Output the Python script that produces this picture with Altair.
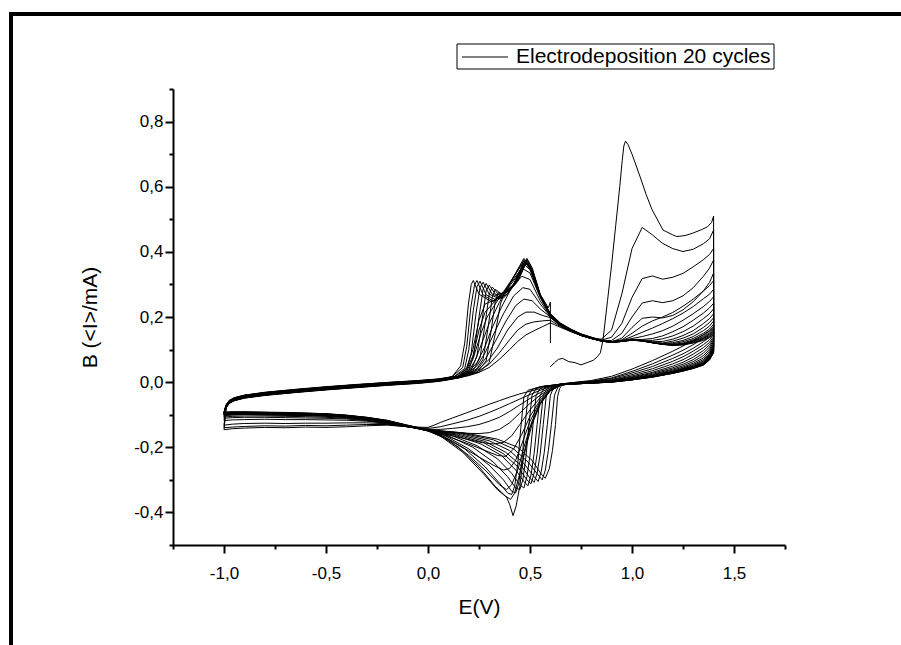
import altair as alt
import pandas as pd

# ---------------- data ----------------
# cycle 1 starts at 0.6 V (anodic sweep, nucleation peak)
C1_E = [0.6, 0.62, 0.64, 0.66, 0.69, 0.72, 0.75, 0.78, 0.81, 0.83, 0.845, 0.858, 0.88, 0.9, 0.92, 0.94,
        0.952, 0.96, 0.968, 0.98, 1.0, 1.04, 1.07, 1.098, 1.152, 1.2, 1.22, 1.26, 1.3, 1.34, 1.37, 1.39, 1.4]
C1_I = [0.047, 0.06, 0.07, 0.073, 0.063, 0.06, 0.053, 0.06, 0.067, 0.078, 0.09, 0.13, 0.25, 0.36, 0.48, 0.6,
        0.68, 0.725, 0.74, 0.73, 0.7, 0.63, 0.575, 0.53, 0.467, 0.452, 0.447, 0.45, 0.458, 0.468, 0.477, 0.49, 0.51]

# anodic sweep, low potentials (cycles 2..21)
EA_LOW = [-0.99, -0.975, -0.95, -0.9, -0.8, -0.65, -0.5, -0.35, -0.2, -0.05, 0.05, 0.1]
IA_LOW = [
    [-0.080, -0.066, -0.057, -0.049, -0.041, -0.032, -0.024, -0.017, -0.010, -0.004, 0.002, 0.007],
    [-0.079, -0.065, -0.057, -0.049, -0.040, -0.031, -0.023, -0.016, -0.009, -0.003, 0.003, 0.008],
    [-0.079, -0.065, -0.056, -0.048, -0.040, -0.031, -0.023, -0.016, -0.009, -0.003, 0.003, 0.008],
    [-0.078, -0.064, -0.056, -0.048, -0.039, -0.030, -0.022, -0.015, -0.008, -0.002, 0.004, 0.009],
    [-0.077, -0.064, -0.055, -0.047, -0.039, -0.030, -0.022, -0.015, -0.008, -0.002, 0.004, 0.009],
    [-0.077, -0.063, -0.055, -0.047, -0.038, -0.029, -0.021, -0.014, -0.007, -0.001, 0.004, 0.009],
    [-0.076, -0.063, -0.054, -0.046, -0.038, -0.029, -0.021, -0.014, -0.007, -0.001, 0.005, 0.010],
    [-0.076, -0.062, -0.054, -0.046, -0.037, -0.028, -0.020, -0.013, -0.006, 0.000, 0.005, 0.010],
    [-0.075, -0.062, -0.053, -0.045, -0.037, -0.028, -0.020, -0.013, -0.006, 0.000, 0.005, 0.010],
    [-0.075, -0.061, -0.053, -0.045, -0.036, -0.027, -0.019, -0.012, -0.005, 0.001, 0.006, 0.011],
    [-0.074, -0.061, -0.052, -0.044, -0.036, -0.027, -0.019, -0.012, -0.005, 0.001, 0.006, 0.011],
    [-0.074, -0.060, -0.052, -0.044, -0.035, -0.026, -0.018, -0.011, -0.004, 0.002, 0.007, 0.012],
    [-0.073, -0.060, -0.051, -0.043, -0.035, -0.026, -0.018, -0.011, -0.004, 0.002, 0.007, 0.012],
    [-0.073, -0.059, -0.051, -0.043, -0.034, -0.025, -0.017, -0.010, -0.004, 0.002, 0.007, 0.012],
    [-0.072, -0.059, -0.050, -0.042, -0.034, -0.025, -0.017, -0.010, -0.003, 0.003, 0.008, 0.013],
    [-0.072, -0.058, -0.050, -0.042, -0.033, -0.024, -0.016, -0.009, -0.003, 0.003, 0.008, 0.013],
    [-0.071, -0.058, -0.049, -0.041, -0.033, -0.024, -0.016, -0.009, -0.002, 0.003, 0.008, 0.013],
    [-0.071, -0.057, -0.049, -0.041, -0.032, -0.023, -0.015, -0.008, -0.002, 0.004, 0.009, 0.014],
    [-0.070, -0.057, -0.048, -0.040, -0.032, -0.023, -0.015, -0.008, -0.001, 0.004, 0.009, 0.014],
    [-0.070, -0.056, -0.048, -0.040, -0.031, -0.022, -0.014, -0.007, -0.001, 0.005, 0.010, 0.015],
]

# anodic redox waves (E, I) for cycles 2..21 (last one ends the record at 0.6 V)
AN_WAVE = [
    [(0.15, 0.013), (0.2, 0.02), (0.25, 0.03), (0.3, 0.045), (0.35, 0.07), (0.4, 0.1), (0.44, 0.125), (0.48, 0.145), (0.52, 0.158), (0.56, 0.17)],
    [(0.15, 0.013), (0.2, 0.022), (0.25, 0.035), (0.3, 0.055), (0.35, 0.09), (0.4, 0.13), (0.44, 0.16), (0.48, 0.178), (0.52, 0.185), (0.56, 0.188)],
    [(0.15, 0.014), (0.2, 0.025), (0.25, 0.04), (0.3, 0.07), (0.34, 0.105), (0.39, 0.16), (0.44, 0.2), (0.48, 0.215), (0.52, 0.215), (0.56, 0.205)],
    [(0.15, 0.014), (0.2, 0.027), (0.25, 0.045), (0.29, 0.08), (0.33, 0.125), (0.38, 0.185), (0.43, 0.235), (0.47, 0.255), (0.51, 0.25), (0.55, 0.225)],
    [(0.15, 0.015), (0.2, 0.03), (0.24, 0.05), (0.28, 0.09), (0.32, 0.145), (0.37, 0.21), (0.42, 0.265), (0.465, 0.29), (0.5, 0.285), (0.55, 0.24)],
    [(0.15, 0.015), (0.2, 0.032), (0.24, 0.06), (0.28, 0.11), (0.31, 0.16), (0.36, 0.23), (0.41, 0.29), (0.46, 0.325), (0.5, 0.315), (0.55, 0.25)],
    [(0.15, 0.016), (0.2, 0.035), (0.23, 0.065), (0.27, 0.13), (0.3, 0.18), (0.35, 0.245), (0.4, 0.3), (0.46, 0.35), (0.5, 0.335), (0.55, 0.26)],
    [(0.15, 0.017), (0.19, 0.035), (0.22, 0.07), (0.26, 0.15), (0.29, 0.2), (0.34, 0.25), (0.4, 0.305), (0.465, 0.365), (0.5, 0.345), (0.55, 0.262)],
    [(0.15, 0.018), (0.19, 0.04), (0.22, 0.08), (0.25, 0.16), (0.28, 0.215), (0.33, 0.25), (0.39, 0.29), (0.47, 0.375), (0.5, 0.35), (0.55, 0.265)],
    [(0.15, 0.018), (0.19, 0.045), (0.22, 0.1), (0.25, 0.19), (0.28, 0.24), (0.32, 0.25), (0.38, 0.28), (0.47, 0.38), (0.5, 0.352), (0.55, 0.265)],
    [(0.15, 0.015), (0.25, 0.03), (0.3, 0.06), (0.33, 0.15), (0.355, 0.24), (0.37, 0.265), (0.39, 0.27), (0.43, 0.31), (0.47, 0.372), (0.5, 0.35), (0.55, 0.265)],
    [(0.15, 0.015), (0.24, 0.03), (0.285, 0.065), (0.31, 0.16), (0.33, 0.25), (0.345, 0.275), (0.37, 0.27), (0.42, 0.3), (0.475, 0.37), (0.5, 0.352), (0.55, 0.265)],
    [(0.15, 0.016), (0.23, 0.032), (0.27, 0.07), (0.295, 0.17), (0.315, 0.26), (0.33, 0.285), (0.36, 0.27), (0.41, 0.29), (0.475, 0.368), (0.51, 0.34), (0.55, 0.265)],
    [(0.15, 0.016), (0.22, 0.034), (0.255, 0.075), (0.28, 0.18), (0.3, 0.27), (0.315, 0.292), (0.345, 0.27), (0.4, 0.28), (0.478, 0.366), (0.51, 0.34), (0.55, 0.266)],
    [(0.14, 0.016), (0.21, 0.035), (0.24, 0.08), (0.265, 0.19), (0.285, 0.28), (0.3, 0.298), (0.33, 0.27), (0.38, 0.265), (0.44, 0.31), (0.48, 0.365), (0.51, 0.34), (0.55, 0.266)],
    [(0.14, 0.017), (0.2, 0.037), (0.225, 0.085), (0.25, 0.2), (0.27, 0.285), (0.285, 0.303), (0.315, 0.27), (0.37, 0.258), (0.44, 0.31), (0.482, 0.368), (0.51, 0.342), (0.55, 0.267)],
    [(0.13, 0.017), (0.19, 0.04), (0.212, 0.09), (0.235, 0.21), (0.255, 0.29), (0.27, 0.307), (0.3, 0.27), (0.355, 0.255), (0.43, 0.305), (0.483, 0.37), (0.51, 0.345), (0.55, 0.267)],
    [(0.13, 0.018), (0.18, 0.042), (0.2, 0.1), (0.222, 0.22), (0.24, 0.293), (0.255, 0.31), (0.285, 0.268), (0.34, 0.25), (0.43, 0.305), (0.484, 0.373), (0.51, 0.347), (0.55, 0.268)],
    [(0.12, 0.018), (0.17, 0.045), (0.19, 0.11), (0.21, 0.23), (0.228, 0.298), (0.24, 0.312), (0.27, 0.268), (0.32, 0.248), (0.42, 0.3), (0.485, 0.377), (0.51, 0.35), (0.55, 0.268)],
    [(0.12, 0.018), (0.16, 0.05), (0.18, 0.12), (0.198, 0.24), (0.212, 0.3), (0.222, 0.312), (0.25, 0.27), (0.31, 0.247), (0.36, 0.262), (0.43, 0.32), (0.485, 0.38), (0.51, 0.352), (0.55, 0.27), (0.59, 0.228), (0.6, 0.246), (0.6, 0.12)],
]

# anodic sweep, high potentials (cycles 2..20)
EA_HIGH = [0.6, 0.65, 0.7, 0.75, 0.8, 0.85, 0.9, 0.95, 1.0, 1.05, 1.1, 1.15, 1.2, 1.25, 1.3, 1.35, 1.38, 1.4]
IA_HIGH = [
    [0.182, 0.168, 0.155, 0.143, 0.135, 0.132, 0.16, 0.27, 0.41, 0.475, 0.452, 0.426, 0.41, 0.401, 0.408, 0.425, 0.44, 0.467],
    [0.19, 0.17, 0.156, 0.144, 0.135, 0.129, 0.138, 0.18, 0.26, 0.318, 0.326, 0.316, 0.322, 0.334, 0.354, 0.376, 0.392, 0.41],
    [0.198, 0.172, 0.157, 0.144, 0.135, 0.128, 0.128, 0.15, 0.2, 0.243, 0.25, 0.244, 0.25, 0.265, 0.29, 0.325, 0.35, 0.375],
    [0.2, 0.173, 0.157, 0.144, 0.134, 0.127, 0.124, 0.135, 0.168, 0.196, 0.2, 0.197, 0.205, 0.222, 0.247, 0.28, 0.306, 0.335],
    [0.201, 0.174, 0.157, 0.143, 0.134, 0.127, 0.124, 0.13, 0.15, 0.172, 0.188, 0.2, 0.214, 0.233, 0.255, 0.28, 0.296, 0.312],
    [0.202, 0.174, 0.157, 0.143, 0.134, 0.126, 0.123, 0.128, 0.14, 0.153, 0.166, 0.18, 0.195, 0.212, 0.232, 0.256, 0.27, 0.285],
    [0.203, 0.175, 0.158, 0.144, 0.134, 0.126, 0.123, 0.127, 0.134, 0.14, 0.148, 0.158, 0.172, 0.19, 0.21, 0.232, 0.248, 0.262],
    [0.204, 0.175, 0.158, 0.144, 0.134, 0.126, 0.122, 0.126, 0.131, 0.131, 0.134, 0.142, 0.155, 0.17, 0.19, 0.212, 0.228, 0.242],
    [0.204, 0.176, 0.158, 0.144, 0.134, 0.126, 0.122, 0.126, 0.13, 0.129, 0.128, 0.133, 0.142, 0.155, 0.172, 0.195, 0.21, 0.225],
    [0.205, 0.176, 0.159, 0.145, 0.135, 0.126, 0.122, 0.125, 0.13, 0.128, 0.124, 0.125, 0.132, 0.143, 0.158, 0.18, 0.195, 0.21],
    [0.205, 0.177, 0.159, 0.145, 0.135, 0.126, 0.122, 0.125, 0.129, 0.127, 0.122, 0.12, 0.126, 0.135, 0.148, 0.168, 0.183, 0.198],
    [0.206, 0.177, 0.16, 0.145, 0.135, 0.127, 0.122, 0.125, 0.129, 0.127, 0.122, 0.119, 0.121, 0.128, 0.14, 0.158, 0.172, 0.188],
    [0.206, 0.178, 0.16, 0.146, 0.136, 0.127, 0.123, 0.125, 0.129, 0.127, 0.121, 0.118, 0.118, 0.124, 0.134, 0.15, 0.163, 0.178],
    [0.207, 0.178, 0.16, 0.146, 0.136, 0.127, 0.123, 0.125, 0.129, 0.126, 0.121, 0.117, 0.116, 0.12, 0.13, 0.144, 0.156, 0.17],
    [0.207, 0.179, 0.161, 0.146, 0.136, 0.128, 0.123, 0.125, 0.129, 0.126, 0.121, 0.117, 0.115, 0.118, 0.127, 0.14, 0.151, 0.165],
    [0.208, 0.179, 0.161, 0.147, 0.137, 0.128, 0.123, 0.126, 0.13, 0.127, 0.121, 0.116, 0.114, 0.117, 0.125, 0.137, 0.147, 0.16],
    [0.208, 0.18, 0.162, 0.147, 0.137, 0.128, 0.124, 0.126, 0.13, 0.127, 0.121, 0.116, 0.114, 0.116, 0.123, 0.134, 0.143, 0.155],
    [0.209, 0.18, 0.162, 0.148, 0.138, 0.129, 0.124, 0.126, 0.13, 0.127, 0.121, 0.116, 0.113, 0.115, 0.121, 0.131, 0.14, 0.15],
    [0.21, 0.181, 0.163, 0.148, 0.138, 0.129, 0.125, 0.127, 0.131, 0.128, 0.122, 0.116, 0.113, 0.114, 0.12, 0.128, 0.137, 0.145],
]

# cathodic sweep, high potentials (cycles 1..20)
EC_HIGH = [1.4, 1.38, 1.35, 1.3, 1.25, 1.2, 1.1, 1.0, 0.9, 0.8, 0.7]
IC_HIGH = [
    [0.17, 0.158, 0.146, 0.128, 0.111, 0.095, 0.066, 0.04, 0.018, 0.005, -0.002],
    [0.16, 0.147, 0.134, 0.115, 0.098, 0.083, 0.056, 0.033, 0.013, 0.003, -0.002],
    [0.152, 0.138, 0.124, 0.104, 0.087, 0.073, 0.048, 0.028, 0.011, 0.002, -0.003],
    [0.146, 0.13, 0.115, 0.095, 0.078, 0.064, 0.041, 0.023, 0.008, 0.001, -0.003],
    [0.14, 0.122, 0.106, 0.086, 0.069, 0.056, 0.035, 0.019, 0.006, 0.0, -0.003],
    [0.135, 0.115, 0.097, 0.077, 0.061, 0.049, 0.03, 0.016, 0.005, 0.0, -0.004],
    [0.13, 0.108, 0.089, 0.069, 0.055, 0.044, 0.027, 0.014, 0.004, -0.001, -0.004],
    [0.125, 0.101, 0.081, 0.063, 0.05, 0.04, 0.024, 0.012, 0.003, -0.001, -0.004],
    [0.12, 0.095, 0.074, 0.058, 0.046, 0.037, 0.022, 0.011, 0.003, -0.001, -0.004],
    [0.116, 0.089, 0.069, 0.054, 0.043, 0.034, 0.02, 0.01, 0.002, -0.002, -0.005],
    [0.112, 0.085, 0.065, 0.051, 0.041, 0.033, 0.019, 0.01, 0.002, -0.002, -0.005],
    [0.109, 0.082, 0.062, 0.049, 0.04, 0.032, 0.019, 0.009, 0.002, -0.002, -0.005],
    [0.106, 0.079, 0.06, 0.047, 0.039, 0.031, 0.018, 0.009, 0.002, -0.002, -0.005],
    [0.103, 0.077, 0.058, 0.046, 0.038, 0.03, 0.018, 0.009, 0.001, -0.002, -0.005],
    [0.1, 0.075, 0.057, 0.045, 0.037, 0.03, 0.017, 0.008, 0.001, -0.003, -0.006],
    [0.098, 0.073, 0.056, 0.044, 0.036, 0.029, 0.017, 0.008, 0.001, -0.003, -0.006],
    [0.096, 0.071, 0.055, 0.043, 0.035, 0.028, 0.016, 0.008, 0.001, -0.003, -0.006],
    [0.094, 0.07, 0.054, 0.043, 0.035, 0.028, 0.016, 0.007, 0.0, -0.003, -0.006],
    [0.092, 0.069, 0.053, 0.042, 0.034, 0.027, 0.016, 0.007, 0.0, -0.003, -0.006],
    [0.09, 0.068, 0.052, 0.042, 0.034, 0.027, 0.015, 0.007, 0.0, -0.003, -0.006],
]

# cathodic redox waves (E, I), cycles 1..20
CAT_WAVE = [
    [(0.65, -0.006), (0.6, -0.012), (0.55, -0.02), (0.5, -0.028), (0.45, -0.036), (0.4, -0.046), (0.35, -0.057), (0.3, -0.068), (0.25, -0.08), (0.19, -0.094), (0.12, -0.11), (0.06, -0.124), (0.03, -0.132), (0.0, -0.139)],
    [(0.65, -0.006), (0.6, -0.014), (0.55, -0.025), (0.5, -0.038), (0.45, -0.052), (0.4, -0.066), (0.35, -0.08), (0.3, -0.093), (0.25, -0.105), (0.19, -0.117), (0.12, -0.128), (0.06, -0.137), (0.0, -0.142)],
    [(0.65, -0.007), (0.6, -0.017), (0.55, -0.032), (0.5, -0.05), (0.45, -0.07), (0.4, -0.09), (0.35, -0.108), (0.3, -0.12), (0.25, -0.13), (0.19, -0.137), (0.12, -0.142), (0.06, -0.145), (0.0, -0.145)],
    [(0.65, -0.008), (0.6, -0.02), (0.55, -0.04), (0.5, -0.065), (0.45, -0.095), (0.4, -0.125), (0.35, -0.145), (0.3, -0.155), (0.25, -0.158), (0.19, -0.157), (0.12, -0.153), (0.06, -0.15), (0.0, -0.146)],
    [(0.65, -0.008), (0.6, -0.022), (0.55, -0.048), (0.5, -0.085), (0.45, -0.13), (0.41, -0.165), (0.37, -0.185), (0.32, -0.19), (0.26, -0.185), (0.19, -0.175), (0.12, -0.165), (0.06, -0.155), (0.0, -0.147)],
    [(0.65, -0.009), (0.6, -0.024), (0.55, -0.055), (0.5, -0.105), (0.46, -0.16), (0.42, -0.205), (0.38, -0.228), (0.34, -0.225), (0.28, -0.21), (0.2, -0.19), (0.12, -0.172), (0.06, -0.158), (0.0, -0.148)],
    [(0.65, -0.009), (0.6, -0.025), (0.55, -0.06), (0.5, -0.12), (0.46, -0.19), (0.43, -0.24), (0.4, -0.265), (0.37, -0.27), (0.32, -0.255), (0.25, -0.23), (0.17, -0.2), (0.08, -0.167), (0.0, -0.148)],
    [(0.65, -0.01), (0.6, -0.026), (0.55, -0.065), (0.51, -0.12), (0.47, -0.2), (0.44, -0.27), (0.41, -0.315), (0.385, -0.33), (0.35, -0.315), (0.28, -0.27), (0.2, -0.225), (0.1, -0.178), (0.0, -0.149)],
    [(0.65, -0.01), (0.6, -0.026), (0.55, -0.068), (0.51, -0.13), (0.48, -0.2), (0.45, -0.28), (0.425, -0.34), (0.405, -0.36), (0.38, -0.35), (0.33, -0.32), (0.25, -0.26), (0.15, -0.2), (0.05, -0.16), (0.0, -0.149)],
    [(0.65, -0.01), (0.6, -0.025), (0.55, -0.065), (0.5, -0.14), (0.47, -0.22), (0.45, -0.32), (0.432, -0.38), (0.417, -0.41), (0.4, -0.375), (0.385, -0.353), (0.34, -0.33), (0.27, -0.28), (0.17, -0.215), (0.06, -0.165), (0.0, -0.15)],
    [(0.65, -0.008), (0.55, -0.015), (0.49, -0.025), (0.47, -0.045), (0.455, -0.14), (0.44, -0.25), (0.425, -0.32), (0.41, -0.345), (0.39, -0.34), (0.35, -0.31), (0.28, -0.26), (0.18, -0.205), (0.07, -0.165), (0.0, -0.15)],
    [(0.65, -0.008), (0.55, -0.014), (0.51, -0.022), (0.49, -0.045), (0.475, -0.14), (0.46, -0.24), (0.445, -0.31), (0.43, -0.34), (0.41, -0.335), (0.37, -0.3), (0.3, -0.255), (0.2, -0.205), (0.08, -0.163), (0.0, -0.149)],
    [(0.65, -0.007), (0.56, -0.013), (0.53, -0.02), (0.51, -0.04), (0.495, -0.13), (0.48, -0.23), (0.465, -0.3), (0.45, -0.33), (0.43, -0.325), (0.39, -0.29), (0.32, -0.245), (0.22, -0.2), (0.1, -0.165), (0.0, -0.149)],
    [(0.65, -0.007), (0.57, -0.012), (0.55, -0.02), (0.53, -0.04), (0.515, -0.13), (0.5, -0.225), (0.485, -0.29), (0.47, -0.325), (0.45, -0.315), (0.41, -0.28), (0.34, -0.235), (0.24, -0.195), (0.12, -0.165), (0.0, -0.148)],
    [(0.65, -0.006), (0.59, -0.011), (0.57, -0.019), (0.55, -0.04), (0.535, -0.13), (0.52, -0.22), (0.505, -0.285), (0.49, -0.318), (0.47, -0.305), (0.43, -0.27), (0.36, -0.225), (0.26, -0.19), (0.13, -0.163), (0.0, -0.148)],
    [(0.65, -0.006), (0.6, -0.011), (0.585, -0.019), (0.565, -0.04), (0.55, -0.13), (0.535, -0.22), (0.52, -0.28), (0.505, -0.312), (0.485, -0.3), (0.44, -0.26), (0.37, -0.22), (0.27, -0.185), (0.14, -0.162), (0.0, -0.148)],
    [(0.65, -0.006), (0.615, -0.011), (0.6, -0.019), (0.58, -0.04), (0.565, -0.13), (0.55, -0.22), (0.535, -0.28), (0.52, -0.308), (0.5, -0.295), (0.455, -0.255), (0.38, -0.215), (0.28, -0.182), (0.15, -0.16), (0.0, -0.147)],
    [(0.65, -0.006), (0.63, -0.01), (0.615, -0.018), (0.6, -0.04), (0.585, -0.13), (0.57, -0.215), (0.555, -0.275), (0.54, -0.305), (0.52, -0.29), (0.47, -0.25), (0.4, -0.21), (0.3, -0.18), (0.16, -0.158), (0.0, -0.147)],
    [(0.66, -0.006), (0.645, -0.01), (0.635, -0.018), (0.62, -0.04), (0.605, -0.13), (0.59, -0.21), (0.575, -0.27), (0.56, -0.3), (0.54, -0.285), (0.49, -0.245), (0.42, -0.205), (0.32, -0.177), (0.17, -0.157), (0.0, -0.146)],
    [(0.67, -0.005), (0.655, -0.01), (0.645, -0.02), (0.635, -0.045), (0.625, -0.13), (0.61, -0.21), (0.595, -0.265), (0.575, -0.295), (0.555, -0.282), (0.51, -0.24), (0.44, -0.2), (0.34, -0.175), (0.18, -0.156), (0.0, -0.146)],
]

# cathodic sweep, low potentials (cycles 1..20)
EC_LOW = [-0.1, -0.2, -0.3, -0.4, -0.5, -0.6, -0.7, -0.8, -0.9, -0.96, -1.0]
IC_LOW = [
    [-0.137, -0.132, -0.134, -0.137, -0.139, -0.138, -0.14, -0.139, -0.141, -0.143, -0.146],
    [-0.137, -0.13, -0.13, -0.132, -0.134, -0.133, -0.135, -0.134, -0.136, -0.138, -0.14],
    [-0.137, -0.128, -0.125, -0.125, -0.126, -0.126, -0.127, -0.126, -0.127, -0.129, -0.132],
    [-0.137, -0.127, -0.12, -0.117, -0.116, -0.115, -0.115, -0.114, -0.115, -0.116, -0.118],
    [-0.137, -0.126, -0.118, -0.113, -0.111, -0.11, -0.109, -0.108, -0.108, -0.109, -0.111],
    [-0.137, -0.125, -0.117, -0.111, -0.108, -0.106, -0.105, -0.104, -0.104, -0.105, -0.107],
    [-0.136, -0.124, -0.115, -0.109, -0.105, -0.103, -0.102, -0.101, -0.1, -0.101, -0.103],
    [-0.136, -0.123, -0.114, -0.108, -0.104, -0.102, -0.101, -0.1, -0.099, -0.1, -0.102],
    [-0.136, -0.123, -0.113, -0.107, -0.103, -0.101, -0.1, -0.099, -0.098, -0.099, -0.101],
    [-0.136, -0.122, -0.113, -0.106, -0.102, -0.1, -0.099, -0.098, -0.097, -0.098, -0.1],
    [-0.135, -0.122, -0.112, -0.106, -0.101, -0.099, -0.098, -0.097, -0.096, -0.097, -0.099],
    [-0.135, -0.121, -0.112, -0.105, -0.101, -0.099, -0.097, -0.096, -0.095, -0.096, -0.098],
    [-0.135, -0.121, -0.111, -0.105, -0.1, -0.098, -0.097, -0.096, -0.095, -0.095, -0.097],
    [-0.134, -0.12, -0.111, -0.104, -0.1, -0.098, -0.096, -0.095, -0.094, -0.095, -0.096],
    [-0.134, -0.12, -0.11, -0.104, -0.099, -0.097, -0.096, -0.095, -0.094, -0.094, -0.095],
    [-0.134, -0.119, -0.11, -0.103, -0.099, -0.097, -0.095, -0.094, -0.093, -0.094, -0.095],
    [-0.133, -0.119, -0.109, -0.103, -0.098, -0.096, -0.095, -0.094, -0.093, -0.093, -0.094],
    [-0.133, -0.118, -0.109, -0.102, -0.098, -0.096, -0.094, -0.093, -0.092, -0.092, -0.093],
    [-0.133, -0.118, -0.108, -0.102, -0.097, -0.095, -0.094, -0.093, -0.092, -0.092, -0.093],
    [-0.132, -0.117, -0.108, -0.101, -0.097, -0.095, -0.093, -0.092, -0.091, -0.091, -0.092],
]

X_TICKS = [-1.25, -1.0, -0.75, -0.5, -0.25, 0.0, 0.25, 0.5, 0.75, 1.0, 1.25, 1.5, 1.75]
Y_TICKS = [-0.5, -0.4, -0.3, -0.2, -0.1, 0.0, 0.1, 0.2, 0.3, 0.4, 0.5, 0.6, 0.7, 0.8, 0.9]
LEGEND_LABEL = "Electrodeposition 20 cycles"

# ---------------- assemble the record in acquisition order ----------------
E_all, I_all = list(C1_E), list(C1_I)
for k in range(20):
    E_all += EC_HIGH; I_all += IC_HIGH[k]
    E_all += [p[0] for p in CAT_WAVE[k]]; I_all += [p[1] for p in CAT_WAVE[k]]
    E_all += EC_LOW; I_all += IC_LOW[k]
    E_all += EA_LOW; I_all += IA_LOW[k]
    E_all += [p[0] for p in AN_WAVE[k]]; I_all += [p[1] for p in AN_WAVE[k]]
    if k < 19:
        E_all += EA_HIGH; I_all += IA_HIGH[k]

df = pd.DataFrame({"idx": list(range(len(E_all))), "E": E_all, "I": I_all})
one = pd.DataFrame({"k": [0]})

FONT = "Liberation Sans"

x_label = ("abs(round(datum.value*4)) % 2 == 0 ? (datum.value < -0.001 ? '-' : '') + "
           "replace(format(abs(datum.value), '.1f'), '.', ',') : ''")
y_label = ("abs(round(datum.value*10)) % 2 == 0 ? (datum.value < -0.001 ? '-' : '') + "
           "replace(format(abs(datum.value), '.1f'), '.', ',') : ''")

x_axis = alt.Axis(values=X_TICKS, title="E(V)", labelExpr=x_label, labelPadding=12,
                  tickSize={"condition": {"test": "abs(round(datum.value*4)) % 2 == 0", "value": 8}, "value": 4},
                  titleX=306, titleY=62, titleBaseline="middle", titleAlign="center")
y_axis = alt.Axis(values=Y_TICKS, title="B (<I>/mA)", labelExpr=y_label, labelPadding=2,
                  tickSize={"condition": {"test": "abs(round(datum.value*10)) % 2 == 0", "value": 8}, "value": 4},
                  titleX=-83, titleY=228, titleAngle=270, titleBaseline="middle", titleAlign="center")

curves = alt.Chart(df).mark_line(color="black", strokeWidth=1).encode(
    x=alt.X("E:Q", scale=alt.Scale(domain=[-1.25, 1.75], nice=False, zero=False), axis=x_axis),
    y=alt.Y("I:Q", scale=alt.Scale(domain=[-0.5, 0.9], nice=False, zero=False), axis=y_axis),
    order=alt.Order("idx:Q"),
)

legend_box = alt.Chart(one).mark_rect(fill="white", stroke="black", strokeWidth=1).encode(
    x=alt.value(284), x2=alt.value(601), y=alt.value(-45), y2=alt.value(-20))
legend_line = alt.Chart(one).mark_rule(color="black", strokeWidth=1).encode(
    x=alt.value(289), x2=alt.value(335), y=alt.value(-32))
legend_text = alt.Chart(one).mark_text(align="left", baseline="middle", font=FONT, fontSize=21,
                                       color="black").encode(
    x=alt.value(343), y=alt.value(-32), text=alt.value(LEGEND_LABEL))

frame_left = alt.Chart(one).mark_rule(color="black", strokeWidth=4).encode(
    x=alt.value(-162), y=alt.value(-77), y2=alt.value(570))
frame_top = alt.Chart(one).mark_rule(color="black", strokeWidth=4).encode(
    x=alt.value(-164), x2=alt.value(740), y=alt.value(-75))

chart = alt.layer(curves, legend_box, legend_line, legend_text, frame_left, frame_top).properties(
    width=612, height=456,
    autosize=alt.AutoSizeParams(type="none"),
    padding={"left": 173, "top": 89, "right": 116, "bottom": 100},
    background="white",
).configure_view(stroke=None).configure_axis(
    grid=False, domainColor="black", domainWidth=2, tickColor="black", tickWidth=2,
    labelFont=FONT, labelFontSize=17, labelColor="black",
    labelFlush=False, labelOverlap=False,
    titleFont=FONT, titleFontSize=21, titleFontWeight="normal", titleColor="black",
)

chart.save("out.html", embed_options={"renderer": "svg", "actions": False})
